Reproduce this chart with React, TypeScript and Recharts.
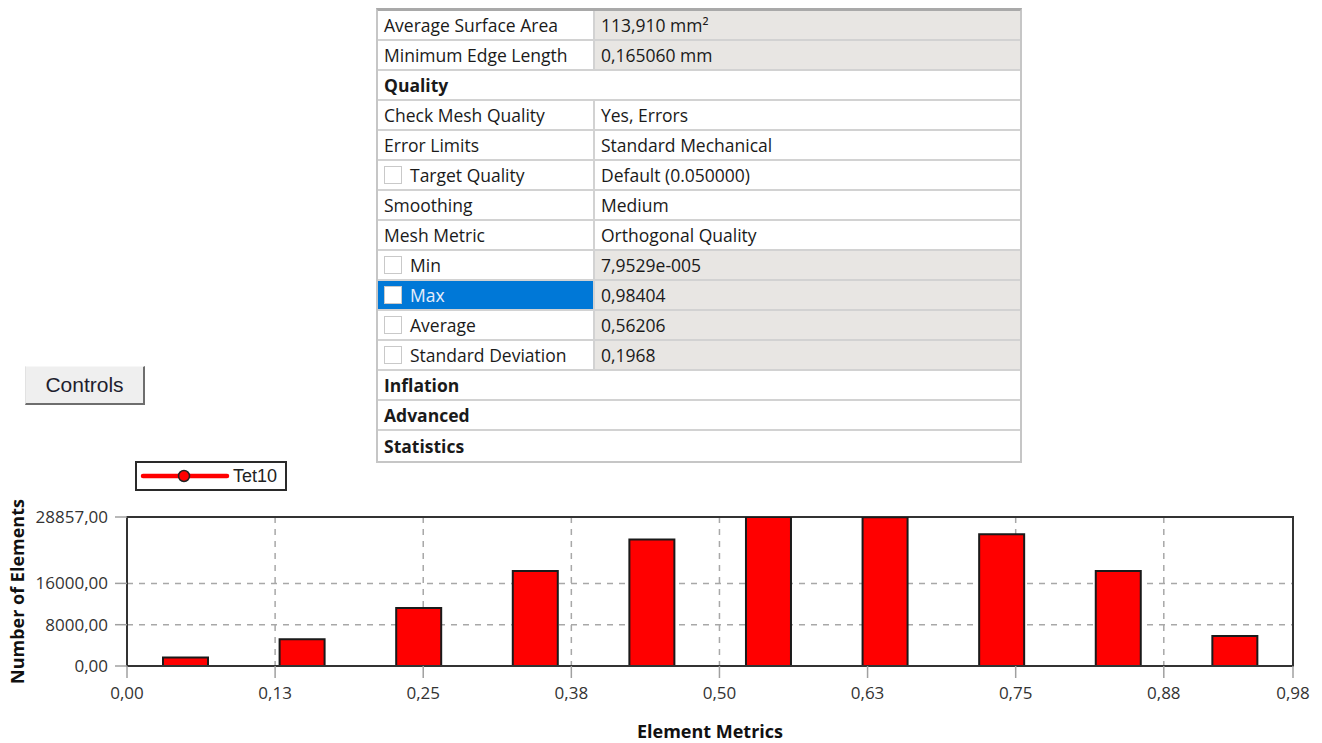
import React from 'react';
import { ComposedChart, Bar, XAxis, YAxis, CartesianGrid, Legend, Label, ReferenceArea } from 'recharts';

// ---- chart data ----
const binCenters = [0.0492, 0.1476, 0.246, 0.3444, 0.4428, 0.5412, 0.6396, 0.738, 0.8364, 0.9348];
const elementCounts = [1650, 5170, 11230, 18400, 24480, 28857, 28800, 25500, 18400, 5810];
const xTickValues = [0, 0.125, 0.25, 0.375, 0.5, 0.625, 0.75, 0.875, 0.98404];
const xTickLabels = ['0,00', '0,13', '0,25', '0,38', '0,50', '0,63', '0,75', '0,88', '0,98'];
const yTickValues = [0, 8000, 16000, 28857];
const yTickLabels = ['0,00', '8000,00', '16000,00', '28857,00'];
const seriesName = 'Tet10';
const xMax = 0.98404;
const yMax = 28857;

// ---- table data ----
const tableLabels = [
  'Average Surface Area', 'Minimum Edge Length', 'Quality', 'Check Mesh Quality', 'Error Limits',
  'Target Quality', 'Smoothing', 'Mesh Metric', 'Min', 'Max', 'Average', 'Standard Deviation',
  'Inflation', 'Advanced', 'Statistics',
];
const tableValues = [
  '113,910 mm²', '0,165060 mm', '', 'Yes, Errors', 'Standard Mechanical',
  'Default (0.050000)', 'Medium', 'Orthogonal Quality', '7,9529e-005', '0,98404', '0,56206', '0,1968',
  '', '', '',
];
// h = header, c = checkbox, g = gray value, s = selected
const tableKinds = ['g', 'g', 'h', '', '', 'c', '', '', 'cg', 'cgs', 'cg', 'cg', 'h', 'h', 'h'];

const chartData = binCenters.map((x, i) => ({ x, count: elementCounts[i] }));

const tableFont = '"Open Sans", "Noto Sans", sans-serif';

function Checkbox() {
  return (
    <div
      style={{
        width: 18,
        height: 18,
        boxSizing: 'border-box',
        border: '1px solid #c9c9c9',
        background: '#fff',
        marginRight: 8,
        flex: 'none',
      }}
    />
  );
}

function PropertyTable() {
  return (
    <div
      style={{
        position: 'absolute',
        left: 376,
        top: 8,
        width: 646,
        boxSizing: 'border-box',
        borderTop: '3px solid #a9a9a9',
        borderLeft: '2px solid #c6c6c6',
        borderRight: '2px solid #c6c6c6',
        borderBottom: '2px solid #c6c6c6',
        fontFamily: tableFont,
        fontSize: 17.5,
        color: '#1a1a1a',
        background: '#fff',
      }}
    >
      {tableLabels.map((lab, i) => {
        const kind = tableKinds[i];
        const last = i === tableLabels.length - 1;
        const rowStyle: React.CSSProperties = {
          height: 30,
          boxSizing: 'border-box',
          borderBottom: last ? 'none' : '2px solid #d2d2d2',
          display: 'flex',
          alignItems: 'stretch',
          whiteSpace: 'nowrap',
        };
        if (kind === 'h') {
          return (
            <div key={i} style={rowStyle}>
              <div style={{ paddingLeft: 6, display: 'flex', alignItems: 'center', fontWeight: 700 }}>{lab}</div>
            </div>
          );
        }
        const selected = kind.includes('s');
        return (
          <div key={i} style={rowStyle}>
            <div
              style={{
                width: 217,
                boxSizing: 'border-box',
                borderRight: '2px solid #d2d2d2',
                paddingLeft: 6,
                display: 'flex',
                alignItems: 'center',
                background: selected ? '#0078d7' : '#fff',
                color: selected ? '#e6eefa' : '#1a1a1a',
                flex: 'none',
                overflow: 'hidden',
              }}
            >
              {kind.includes('c') ? <Checkbox /> : null}
              {lab}
            </div>
            <div
              style={{
                flex: 1,
                paddingLeft: 6,
                display: 'flex',
                alignItems: 'center',
                background: kind.includes('g') ? '#e8e6e3' : '#fff',
              }}
            >
              {tableValues[i]}
            </div>
          </div>
        );
      })}
    </div>
  );
}

function LegendBox(props: any) {
  const entry = (props.payload && props.payload[0]) || { value: seriesName, color: '#ff0000' };
  return (
    <div
      style={{
        width: 152,
        height: 30,
        boxSizing: 'border-box',
        border: '2px solid #2a2a2a',
        background: '#fff',
        display: 'flex',
        alignItems: 'center',
      }}
    >
      <svg width={96} height={26} style={{ display: 'block' }}>
        <line x1={6} y1={13} x2={90} y2={13} stroke="#ff0000" strokeWidth={4.5} strokeLinecap="round" />
        <circle cx={47} cy={13} r={5.5} fill="#ff0000" stroke="#222" strokeWidth={1.5} />
      </svg>
      <span style={{ fontFamily: '"Liberation Sans", Arial, sans-serif', fontSize: 18, color: '#222' }}>
        {entry.value}
      </span>
    </div>
  );
}

export default function App() {
  return (
    <div style={{ position: 'absolute', left: 0, top: 0, width: 1322, height: 743, background: '#fff', overflow: 'hidden' }}>
      <PropertyTable />
      <div
        style={{
          position: 'absolute',
          left: 25,
          top: 366,
          width: 120,
          height: 39,
          boxSizing: 'border-box',
          background: '#efefef',
          borderTop: '1px solid #f7f7f7',
          borderLeft: '1px solid #e2e2e2',
          borderRight: '2px solid #6e6e6e',
          borderBottom: '2px solid #6e6e6e',
          display: 'flex',
          alignItems: 'center',
          justifyContent: 'center',
          fontFamily: '"Liberation Sans", Arial, sans-serif',
          fontSize: 21,
          color: '#1e1e2e',
        }}
      >
        Controls
      </div>
      <div style={{ position: 'absolute', left: 0, top: 440 }}>
        <ComposedChart
          width={1322}
          height={303}
          data={chartData}
          margin={{ top: 77, right: 29, bottom: 7, left: 10 }}
        >
          <CartesianGrid stroke="#a8a8a8" strokeWidth={1.5} strokeDasharray="6 6" />
          <XAxis
            dataKey="x"
            type="number"
            domain={[0, xMax]}
            ticks={xTickValues}
            interval={0}
            tickFormatter={(v: number, i: number) => xTickLabels[i]}
            tickSize={12}
            tickMargin={9}
            tickLine={{ stroke: '#a0a0a0', strokeWidth: 1.5 }}
            axisLine={{ stroke: '#333', strokeWidth: 2 }}
            tick={{ fill: '#333', fontSize: 17, fontFamily: tableFont }}
            height={70}
            allowDataOverflow
          >
            <Label
              value="Element Metrics"
              position="insideBottom"
              offset={-2}
              style={{ fontFamily: tableFont, fontWeight: 700, fontSize: 18, fill: '#111' }}
            />
          </XAxis>
          <YAxis
            type="number"
            domain={[0, yMax]}
            ticks={yTickValues}
            interval={0}
            tickFormatter={(v: number, i: number) => yTickLabels[i]}
            tickSize={12}
            tickMargin={7}
            tickLine={{ stroke: '#a0a0a0', strokeWidth: 1.5 }}
            axisLine={{ stroke: '#333', strokeWidth: 2 }}
            tick={{ fill: '#333', fontSize: 17, fontFamily: tableFont }}
            width={117}
            allowDataOverflow
          >
            <Label
              value="Number of Elements"
              angle={-90}
              position="insideLeft"
              offset={8}
              style={{ textAnchor: 'middle', fontFamily: tableFont, fontWeight: 700, fontSize: 18, fill: '#111' }}
            />
          </YAxis>
          <Legend
            layout="horizontal"
            verticalAlign="middle"
            align="center"
            content={(p: any) => <LegendBox {...p} />}
            wrapperStyle={{ position: 'absolute', top: 21, left: 135, width: 152, height: 30 }}
          />
          <Bar
            dataKey="count"
            name={seriesName}
            fill="#ff0000"
            stroke="#1a1a1a"
            strokeWidth={2}
            barSize={45}
            isAnimationActive={false}
          />
          <ReferenceArea
            x1={0}
            x2={xMax}
            y1={0}
            y2={yMax}
            fill="none"
            stroke="#333"
            strokeWidth={2}
            ifOverflow="visible"
          />
        </ComposedChart>
      </div>
    </div>
  );
}
